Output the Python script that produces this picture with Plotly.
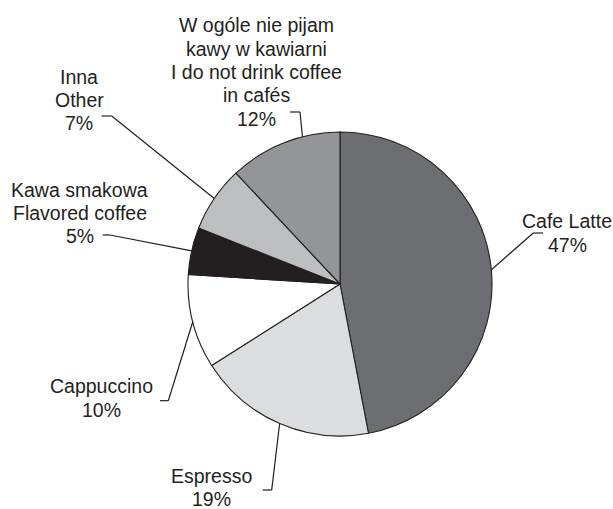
import math
import plotly.graph_objects as go

# Coffee preference shares, clockwise from 12 o'clock
labels = [
    "Cafe Latte",
    "Espresso",
    "Cappuccino",
    "Kawa smakowa<br>Flavored coffee",
    "Inna<br>Other",
    "W ogóle nie pijam<br>kawy w kawiarni<br>I do not drink coffee<br>in cafés",
]
shares = [47, 19, 10, 5, 7, 12]
fills = ["#6d6e71", "#dcddde", "#ffffff", "#231f20", "#bcbec0", "#939598"]

# Canvas and pie geometry (pixels)
W, H = 613, 509
PIE_CX, PIE_CY, PIE_R = 340, 284, 152
INK = "#231f20"
FONT = "Liberation Sans, Arial, sans-serif"
FONT_SIZE = 19.5
LINE_H = 23.3

# Callout layout per slice: label centre, tick start, elbow (pixels),
# plus an angular nudge (degrees) for where the leader meets the rim
label_pos = [(567, 233), (211.5, 487.5), (101, 398), (79.5, 213), (79, 100), (256, 72)]
tick_start = [(543, 233), (262.7, 490), (160, 400.7), (102.7, 235), (101.7, 116), (290, 112)]
tick_elbow = [(533.3, 233), (271.7, 490), (168.3, 400.7), (110, 235), (111.7, 116), (300, 112)]
rim_nudge = [0, 0, 0, 0, 0, 7.3]


def px(x, y):
    return x / W, 1 - y / H


fig = go.Figure()
fig.add_trace(
    go.Pie(
        labels=[l.replace("<br>", " ") for l in labels],
        values=shares,
        sort=False,
        direction="clockwise",
        rotation=0,
        marker=dict(colors=fills, line=dict(color=INK, width=1.1)),
        textinfo="none",
        hoverinfo="label+percent",
        showlegend=False,
        domain=dict(
            x=[(PIE_CX - PIE_R) / W, (PIE_CX + PIE_R) / W],
            y=[1 - (PIE_CY + PIE_R) / H, 1 - (PIE_CY - PIE_R) / H],
        ),
    )
)

total = sum(shares)
cum = 0
shapes = []
annotations = []
for i, (lab, v) in enumerate(zip(labels, shares)):
    mid = (cum + v / 2) / total * 360 + rim_nudge[i]
    cum += v
    a = math.radians(mid)
    ax = PIE_CX + PIE_R * math.sin(a)
    ay = PIE_CY - PIE_R * math.cos(a)
    pts = [tick_start[i], tick_elbow[i], (ax, ay)]
    for (x0, y0), (x1, y1) in zip(pts[:-1], pts[1:]):
        p0, p1 = px(x0, y0), px(x1, y1)
        shapes.append(
            dict(
                type="line", xref="paper", yref="paper",
                x0=p0[0], y0=p0[1], x1=p1[0], y1=p1[1],
                line=dict(color=INK, width=1.2),
            )
        )
    # one annotation per text line for tight leading
    lines = f"{lab}<br>{v}%".split("<br>")
    cx, cy = label_pos[i]
    n = len(lines)
    for k, line in enumerate(lines):
        lx, ly = px(cx, cy + (k - (n - 1) / 2) * LINE_H)
        annotations.append(
            dict(
                text=line,
                x=lx, y=ly, xref="paper", yref="paper",
                xanchor="center", yanchor="middle",
                showarrow=False, align="center",
                font=dict(family=FONT, size=FONT_SIZE, color=INK),
            )
        )

fig.update_layout(
    width=W,
    height=H,
    margin=dict(l=0, r=0, t=0, b=0),
    paper_bgcolor="white",
    plot_bgcolor="white",
    shapes=shapes,
    annotations=annotations,
)

fig.write_html("out.html")
